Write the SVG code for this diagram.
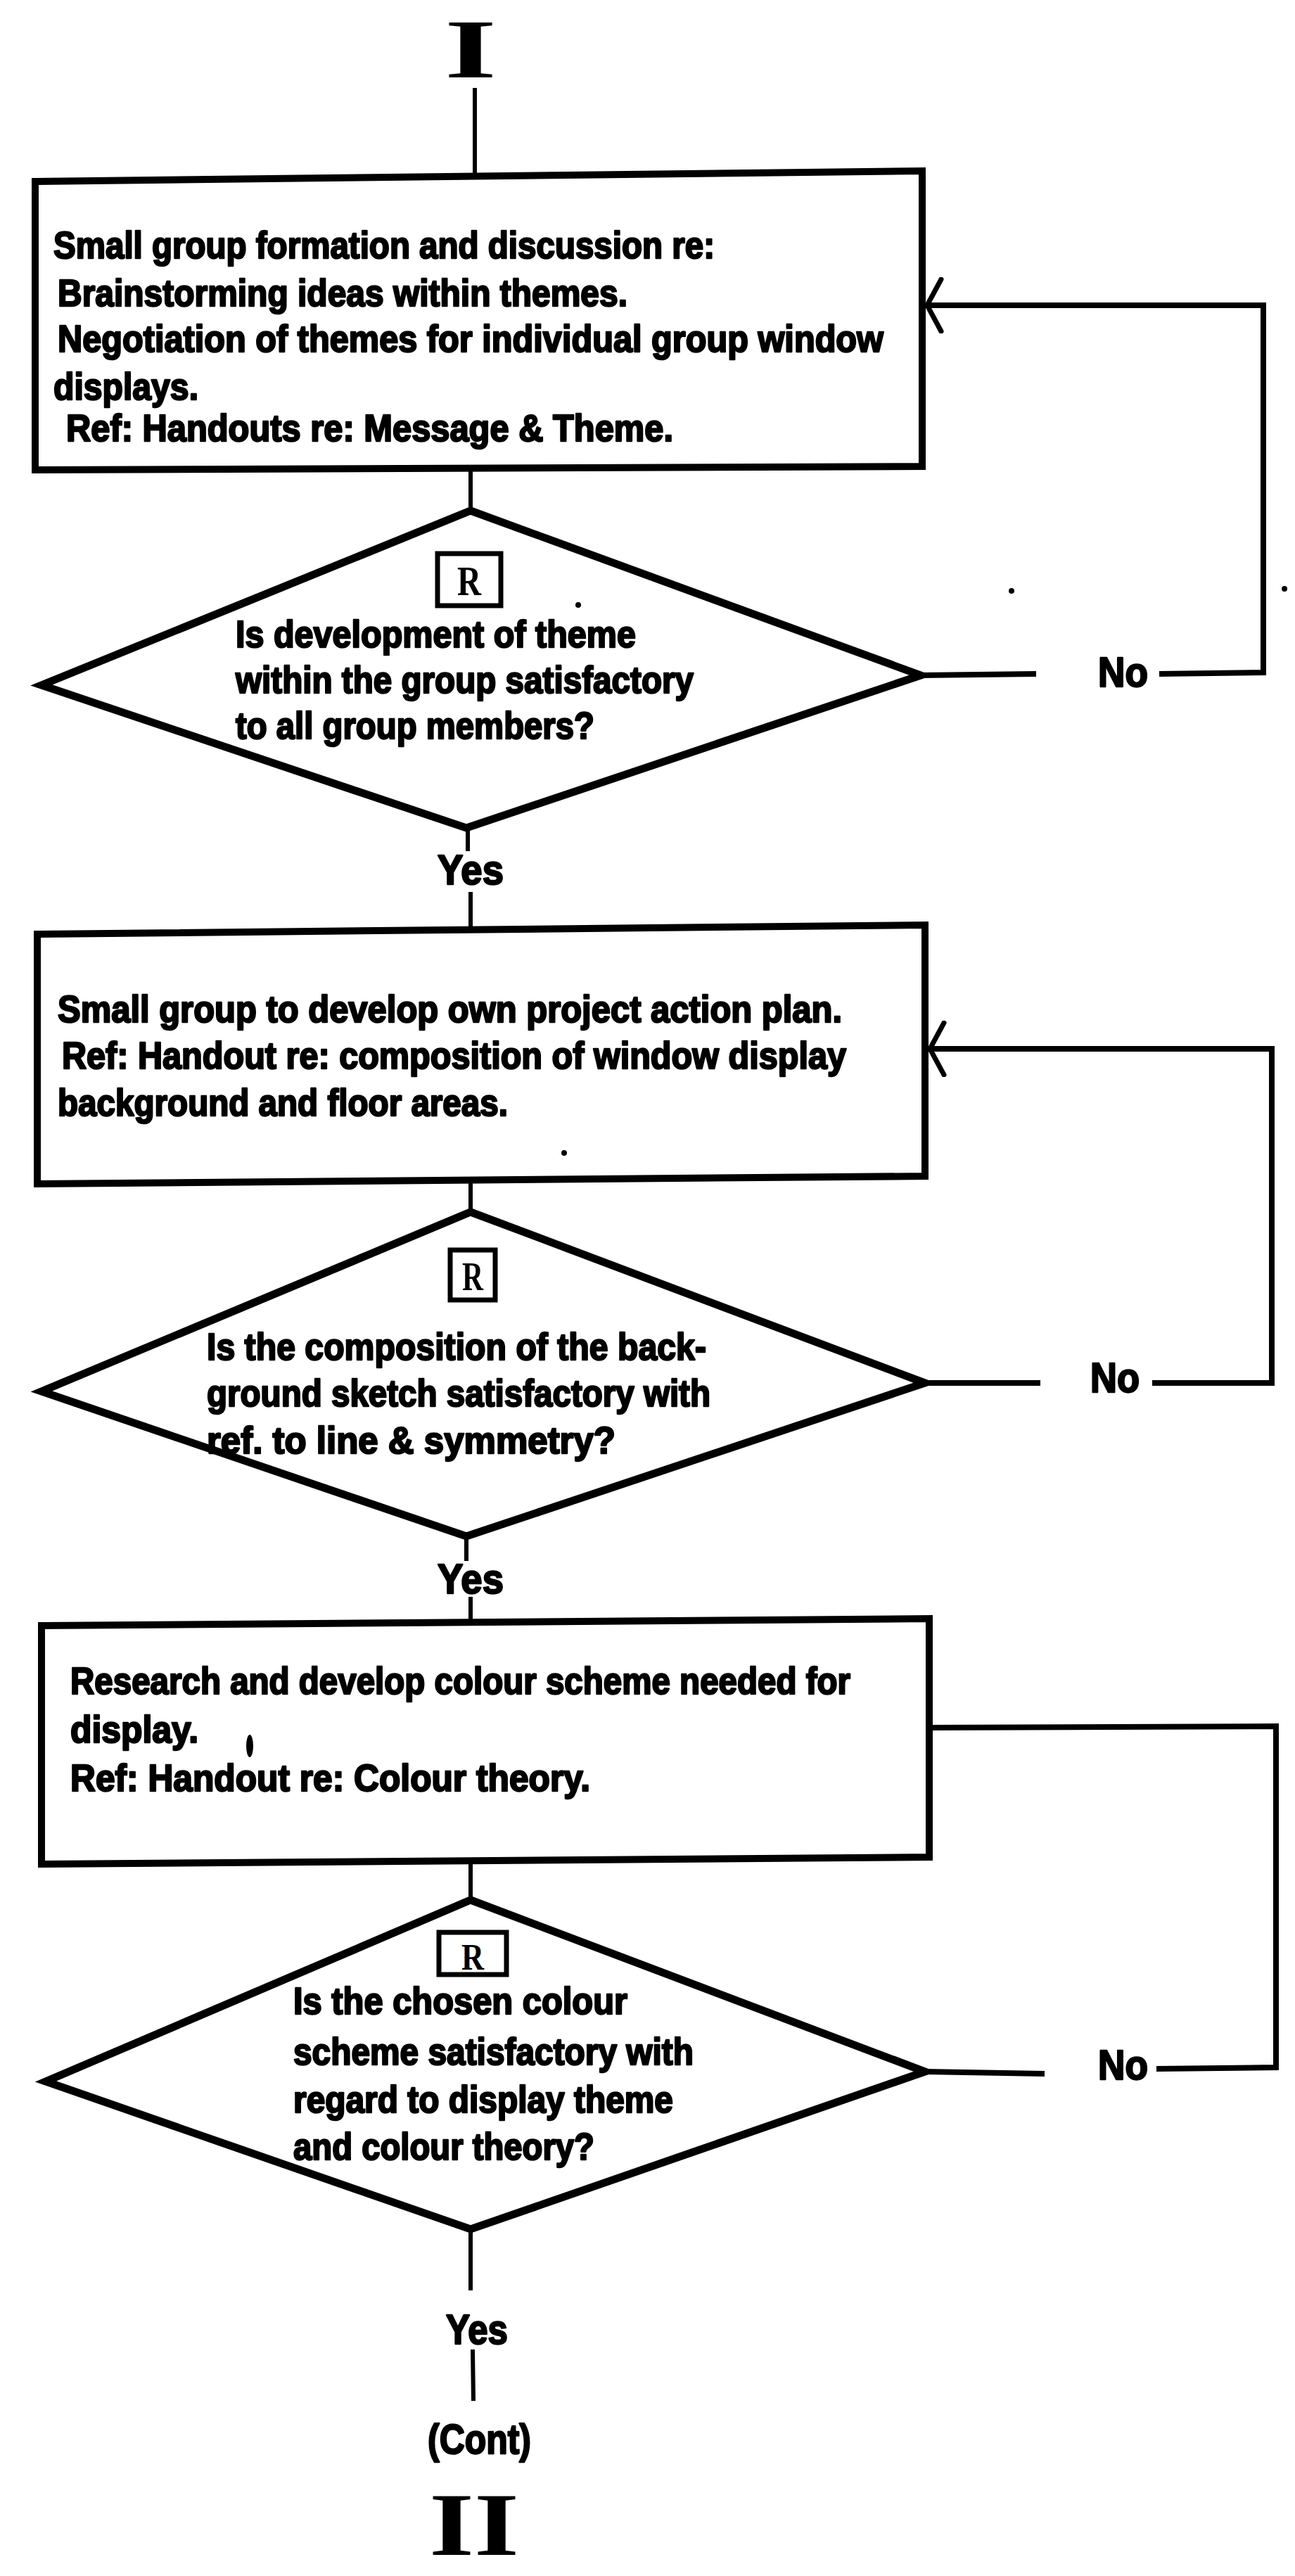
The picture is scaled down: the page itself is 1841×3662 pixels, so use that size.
<svg xmlns="http://www.w3.org/2000/svg" width="1841" height="3662" viewBox="0 0 1841 3662">
  <style>
    .box{fill:none;stroke:#000;stroke-width:10;stroke-linejoin:miter}
    .dia{fill:none;stroke:#000;stroke-width:11;stroke-linejoin:miter}
    .tag{fill:none;stroke:#000;stroke-width:7}
    .conn{fill:none;stroke:#000;stroke-width:6}
    .loop{fill:none;stroke:#000;stroke-width:8;stroke-linejoin:miter}
    .t{font-family:"Liberation Sans",Arial,sans-serif;font-weight:bold;font-size:54px;fill:#000;stroke:#000;stroke-width:2.5;stroke-linejoin:round}
    .lbl{font-family:"Liberation Sans",Arial,sans-serif;font-weight:bold;font-size:60px;fill:#000;stroke:#000;stroke-width:2.5;stroke-linejoin:round}
    .num{font-family:"Liberation Serif","Times New Roman",serif;font-weight:bold;fill:#000}
    .speck{fill:#000}
  </style>
  <defs>
    <!-- open chevron used where a loop re-enters a box -->
    <marker id="chev" viewBox="0 0 30 80" refX="24" refY="40" markerWidth="30" markerHeight="80" markerUnits="userSpaceOnUse" orient="auto">
      <path d="M4,3 L24,40 L4,77" fill="none" stroke="#000" stroke-width="7" stroke-linecap="round"/>
    </marker>
  </defs>
  <rect width="1841" height="3662" fill="#fff"/>

  <!-- entry label -->
  <g id="start">
    <text class="num" x="632" y="110" font-size="118" textLength="74" lengthAdjust="spacingAndGlyphs">I</text>
  </g>

  <g id="connectors">
    <path class="conn" d="M675,125 V254"/>
    <path class="conn" d="M669,668 V728"/>
    <path class="conn" d="M665,1177 V1210"/>
    <path class="conn" d="M669,1268 V1320"/>
    <path class="loop" d="M1309,960 L1473,958"/>
    <path class="loop" d="M1648,958 L1796,956 L1796,434 L1318,434" marker-end="url(#chev)"/>
    <path class="conn" d="M669,1680 V1725"/>
    <path class="conn" d="M663,2184 V2219"/>
    <path class="conn" d="M669,2270 V2306"/>
    <path class="loop" d="M1315,1966 L1479,1966"/>
    <path class="loop" d="M1638,1966 L1808,1966 L1808,1491 L1322,1491" marker-end="url(#chev)"/>
    <path class="conn" d="M669,2648 V2703"/>
    <path class="loop" d="M1644,2941 L1814,2939 L1814,2454 L1321,2456"/>
    <path class="loop" d="M1315,2945 L1485,2948"/>
    <path class="conn" d="M669,3172 V3256"/>
    <path class="conn" d="M672,3340 L673,3413"/>
  </g>

  <g id="box1">
    <polygon class="box" points="50,258 1311,243 1311,663 50,668"/>
    <text class="t" x="76" y="367" textLength="940" lengthAdjust="spacingAndGlyphs">Small group formation and discussion re:</text>
    <text class="t" x="82" y="435" textLength="810" lengthAdjust="spacingAndGlyphs">Brainstorming ideas within themes.</text>
    <text class="t" x="82" y="500" textLength="1174" lengthAdjust="spacingAndGlyphs">Negotiation of themes for individual group window</text>
    <text class="t" x="76" y="568" textLength="206" lengthAdjust="spacingAndGlyphs">displays.</text>
    <text class="t" x="94" y="627" textLength="863" lengthAdjust="spacingAndGlyphs">Ref: Handouts re: Message &amp; Theme.</text>
  </g>

  <g id="decision1">
    <polygon class="dia" points="669,726 1309,960 663,1177 59,974"/>
    <rect class="tag" x="622" y="787" width="90" height="74"/>
    <text class="num" x="667" y="846" font-size="60" text-anchor="middle" textLength="34" lengthAdjust="spacingAndGlyphs">R</text>
    <text class="t" x="335" y="920" textLength="569" lengthAdjust="spacingAndGlyphs">Is development of theme</text>
    <text class="t" x="335" y="985" textLength="651" lengthAdjust="spacingAndGlyphs">within the group satisfactory</text>
    <text class="t" x="335" y="1050" textLength="510" lengthAdjust="spacingAndGlyphs">to all group members?</text>
  </g>
  <g id="yes1"><text class="lbl" x="622" y="1257" textLength="94" lengthAdjust="spacingAndGlyphs">Yes</text></g>
  <g id="no1"><text class="lbl" x="1561" y="976" textLength="71" lengthAdjust="spacingAndGlyphs">No</text></g>

  <g id="box2">
    <polygon class="box" points="53,1328 1315,1315 1315,1672 53,1683"/>
    <text class="t" x="82" y="1453" textLength="1115" lengthAdjust="spacingAndGlyphs">Small group to develop own project action plan.</text>
    <text class="t" x="88" y="1519" textLength="1115" lengthAdjust="spacingAndGlyphs">Ref: Handout re: composition of window display</text>
    <text class="t" x="82" y="1586" textLength="640" lengthAdjust="spacingAndGlyphs">background and floor areas.</text>
  </g>

  <g id="decision2">
    <polygon class="dia" points="669,1723 1315,1966 663,2184 59,1978"/>
    <rect class="tag" x="640" y="1777" width="64" height="71"/>
    <text class="num" x="672" y="1834" font-size="58" text-anchor="middle" textLength="30" lengthAdjust="spacingAndGlyphs">R</text>
    <text class="t" x="294" y="1933" textLength="710" lengthAdjust="spacingAndGlyphs">Is the composition of the back-</text>
    <text class="t" x="294" y="1999" textLength="716" lengthAdjust="spacingAndGlyphs">ground sketch satisfactory with</text>
    <text class="t" x="294" y="2066" textLength="581" lengthAdjust="spacingAndGlyphs">ref. to line &amp; symmetry?</text>
  </g>
  <g id="yes2"><text class="lbl" x="622" y="2265" textLength="94" lengthAdjust="spacingAndGlyphs">Yes</text></g>
  <g id="no2"><text class="lbl" x="1550" y="1979" textLength="70" lengthAdjust="spacingAndGlyphs">No</text></g>

  <g id="box3">
    <polygon class="box" points="59,2311 1321,2301 1321,2640 59,2650"/>
    <text class="t" x="100" y="2408" textLength="1109" lengthAdjust="spacingAndGlyphs">Research and develop colour scheme needed for</text>
    <text class="t" x="100" y="2477" textLength="182" lengthAdjust="spacingAndGlyphs">display.</text>
    <text class="t" x="100" y="2546" textLength="739" lengthAdjust="spacingAndGlyphs">Ref: Handout re: Colour theory.</text>
  </g>

  <g id="decision3">
    <polygon class="dia" points="669,2701 1315,2945 669,3169 65,2959"/>
    <rect class="tag" x="624" y="2747" width="96" height="60"/>
    <text class="num" x="672" y="2800" font-size="52" text-anchor="middle" textLength="32" lengthAdjust="spacingAndGlyphs">R</text>
    <text class="t" x="417" y="2863" textLength="475" lengthAdjust="spacingAndGlyphs">Is the chosen colour</text>
    <text class="t" x="417" y="2935" textLength="569" lengthAdjust="spacingAndGlyphs">scheme satisfactory with</text>
    <text class="t" x="417" y="3003" textLength="540" lengthAdjust="spacingAndGlyphs">regard to display theme</text>
    <text class="t" x="417" y="3070" textLength="428" lengthAdjust="spacingAndGlyphs">and colour theory?</text>
  </g>
  <g id="yes3"><text class="lbl" x="634" y="3332" textLength="88" lengthAdjust="spacingAndGlyphs">Yes</text></g>
  <g id="no3"><text class="lbl" x="1561" y="2956" textLength="71" lengthAdjust="spacingAndGlyphs">No</text></g>

  <g id="end">
    <text class="lbl" x="608" y="3488" font-size="52" textLength="147" lengthAdjust="spacingAndGlyphs">(Cont)</text>
    <text class="num" x="610" y="3632" font-size="128" textLength="128" lengthAdjust="spacingAndGlyphs">II</text>
  </g>

  <!-- stray marks -->
  <g id="specks">
    <circle class="speck" cx="1438" cy="840" r="4"/>
    <circle class="speck" cx="1826" cy="837" r="4"/>
    <circle class="speck" cx="822" cy="860" r="4"/>
    <circle class="speck" cx="802" cy="1639" r="4"/>
    <ellipse class="speck" cx="355" cy="2482" rx="5" ry="16"/>
  </g>
</svg>
